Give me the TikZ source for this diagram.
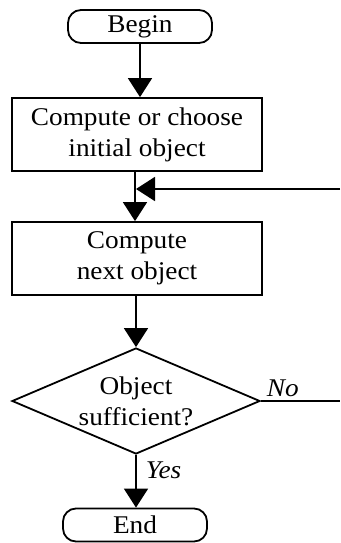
\documentclass[tikz,border=0pt]{standalone}
\usepackage{fontspec}
\setmainfont{Liberation Serif}[FakeStretch=1.07]
\usetikzlibrary{arrows.meta,shapes.geometric,positioning}

\begin{document}
\begin{tikzpicture}[x=1pt,y=-1pt,line width=1.8pt,font=\fontsize{25.5}{31}\selectfont,
    term/.style={draw,rectangle,rounded corners=13pt,minimum width=144pt,minimum height=33pt,inner sep=0pt},
    proc/.style={draw,rectangle,minimum width=250pt,minimum height=73pt,align=center,inner sep=0pt},
    test/.style={draw,diamond,aspect=2.34,minimum width=248pt,minimum height=106pt,inner sep=0pt,align=center},
    flow/.style={-{Triangle[length=19pt,width=24pt]}},
    answer/.style={font=\fontsize{25.5}{31}\selectfont\itshape,inner sep=3pt}]
    % \draw[help lines] (0,0) grid[step=20] (340,543);
    \useasboundingbox (0,0) rectangle (340,543);
    \node[term]  (begin) at (140,26.5)  {Begin};
    \node[proc]  (init)  at (137,134.5) {Compute or choose\\initial object};
    \node[proc]  (next)  at (137,258.5) {Compute\\next object};
    \node[test]  (check) at (136,401)   {Object\\sufficient?};
    \node[term]  (end)   at (135,525)   {End};
    \coordinate  (back)  at (340,189);
    \coordinate  (out)   at (340,401);
    \draw[flow] (begin.south) -- (begin.south |- init.north);
    \draw[flow] ([xshift=-2pt]init.south) -- ([xshift=-2pt]next.north);
    \draw[flow] (back) -- (back -| check.north);
    \draw[flow] ([xshift=-1pt]next.south) -- (check.north);
    \draw[flow] (check.south) -- node[answer,pos=0.3,right=6pt]{Yes} (check.south |- end.north);
    \draw (check.east) -- node[answer,pos=0,above right=0pt and 2pt]{No} (out);
\end{tikzpicture}
\end{document}
